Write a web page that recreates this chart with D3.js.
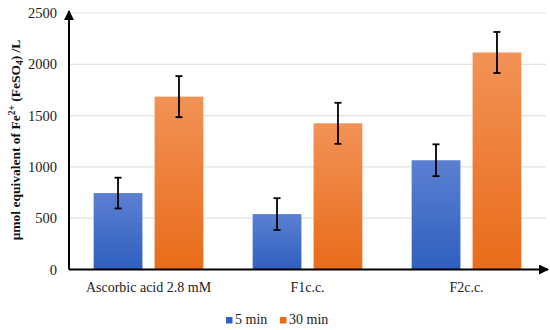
<!DOCTYPE html>
<html>
<head>
<meta charset="utf-8">
<script src="https://cdn.jsdelivr.net/npm/d3@7"></script>
<style>
  body { margin: 0; background: #fff; }
</style>
</head>
<body>
<div id="chart"></div>
<script>
const WIDTH = 550;
const HEIGHT = 330;
const MARGIN = { top: 13, right: 4, bottom: 59, left: 69 };
const FONT = "'Liberation Serif', 'Times New Roman', 'DejaVu Serif', serif";

const categories = ['Ascorbic acid 2.8 mM', 'F1c.c.', 'F2c.c.'];
const seriesNames = ['5 min', '30 min'];
const values5 = [745, 540, 1065];
const errors5 = [150, 155, 155];
const values30 = [1685, 1425, 2115];
const errors30 = [200, 200, 200];
const yTicks = [0, 500, 1000, 1500, 2000, 2500];

const colors = [['#5b80d2', '#2f5fbf'], ['#f29256', '#e96c1a']];

const svg = d3.select('#chart').append('svg')
  .attr('width', WIDTH)
  .attr('height', HEIGHT)
  .style('font-family', FONT);

const defs = svg.append('defs');
colors.forEach((c, i) => {
  const grad = defs.append('linearGradient')
    .attr('id', `grad${i}`)
    .attr('x1', 0).attr('y1', 0).attr('x2', 0).attr('y2', 1);
  grad.append('stop').attr('offset', '0%').attr('stop-color', c[0]);
  grad.append('stop').attr('offset', '100%').attr('stop-color', c[1]);
});
defs.append('marker')
  .attr('id', 'arrow')
  .attr('viewBox', '0 0 10 10')
  .attr('refX', 9).attr('refY', 5)
  .attr('markerWidth', 5).attr('markerHeight', 5)
  .attr('orient', 'auto')
  .append('path')
  .attr('d', 'M0,0L10,5L0,10Z')
  .attr('fill', '#000');

const innerW = WIDTH - MARGIN.left - MARGIN.right;
const innerH = HEIGHT - MARGIN.top - MARGIN.bottom;

const g = svg.append('g').attr('transform', `translate(${MARGIN.left},${MARGIN.top})`);

const x0 = d3.scaleBand().domain(categories).range([0, 477]).paddingInner(0.31).paddingOuter(0.155);
const x1 = d3.scaleBand().domain(seriesNames).range([0, x0.bandwidth()]).paddingInner(0.2);
const y = d3.scaleLinear().domain([0, 2500]).range([innerH - 1.5, 0]);

// gridlines
g.append('g')
  .selectAll('line')
  .data(yTicks.filter((t) => t > 0))
  .enter().append('line')
  .attr('x1', 0).attr('x2', innerW)
  .attr('y1', (d) => y(d)).attr('y2', (d) => y(d))
  .attr('stroke', '#e3e3e3')
  .attr('stroke-width', 1.2);

// tick labels
g.append('g')
  .selectAll('text')
  .data(yTicks)
  .enter().append('text')
  .attr('x', -12)
  .attr('y', (d) => y(d))
  .attr('dy', '0.35em')
  .attr('text-anchor', 'end')
  .attr('font-size', 14.5)
  .attr('fill', '#222')
  .text((d) => d);

const series = [
  { name: seriesNames[0], values: values5, errors: errors5 },
  { name: seriesNames[1], values: values30, errors: errors30 }
];

series.forEach((s, si) => {
  const sg = g.append('g');
  const data = categories.map((c, i) => ({ cat: c, v: s.values[i], e: s.errors[i] }));
  sg.selectAll('rect')
    .data(data)
    .enter().append('rect')
    .attr('x', (d) => x0(d.cat) + x1(s.name))
    .attr('width', x1.bandwidth())
    .attr('y', (d) => y(d.v))
    .attr('height', (d) => y(0) - y(d.v))
    .attr('fill', `url(#grad${si})`);

  const eb = sg.selectAll('g.err')
    .data(data)
    .enter().append('g')
    .attr('class', 'err')
    .attr('stroke', '#000')
    .attr('stroke-width', 1.8);
  const cx = (d) => x0(d.cat) + x1(s.name) + x1.bandwidth() / 2;
  eb.append('line')
    .attr('x1', cx).attr('x2', cx)
    .attr('y1', (d) => y(d.v + d.e)).attr('y2', (d) => y(d.v - d.e));
  eb.append('line')
    .attr('x1', (d) => cx(d) - 3.5).attr('x2', (d) => cx(d) + 3.5)
    .attr('y1', (d) => y(d.v + d.e)).attr('y2', (d) => y(d.v + d.e));
  eb.append('line')
    .attr('x1', (d) => cx(d) - 3.5).attr('x2', (d) => cx(d) + 3.5)
    .attr('y1', (d) => y(d.v - d.e)).attr('y2', (d) => y(d.v - d.e));
});

// axes with arrows
g.append('line')
  .attr('x1', 0).attr('x2', 0)
  .attr('y1', y(0)).attr('y2', -2)
  .attr('stroke', '#000').attr('stroke-width', 2)
  .attr('marker-end', 'url(#arrow)');
g.append('line')
  .attr('x1', 0).attr('x2', innerW + 2)
  .attr('y1', y(0)).attr('y2', y(0))
  .attr('stroke', '#000').attr('stroke-width', 2)
  .attr('marker-end', 'url(#arrow)');

// category labels
g.append('g')
  .selectAll('text')
  .data(categories)
  .enter().append('text')
  .attr('x', (d) => x0(d) + x0.bandwidth() / 2)
  .attr('y', y(0) + 22)
  .attr('text-anchor', 'middle')
  .attr('font-size', 14)
  .attr('fill', '#222')
  .text((d) => d);

// y title
const title = svg.append('text')
  .attr('transform', `translate(20,${MARGIN.top + innerH / 2 - 2}) rotate(-90)`)
  .attr('text-anchor', 'middle')
  .attr('font-size', 13.5)
  .attr('font-weight', 'bold')
  .attr('fill', '#111');
title.append('tspan').text('μmol equivalent of Fe');
title.append('tspan').attr('font-size', 9.5).attr('dy', -5).text('2+');
title.append('tspan').attr('dy', 5).text(' (FeSO');
title.append('tspan').attr('font-size', 9.5).attr('dy', 3).text('4');
title.append('tspan').attr('dy', -3).text(') /L');

// legend
const legend = svg.append('g').attr('transform', 'translate(226,324)');
const legendX = [0, 54];
seriesNames.forEach((n, i) => {
  const lg = legend.append('g').attr('transform', `translate(${legendX[i]},0)`);
  lg.append('rect').attr('x', 0).attr('y', -7).attr('width', 6.5).attr('height', 6.5)
    .attr('fill', colors[i][1]);
  lg.append('text').attr('x', 9).attr('y', 0)
    .attr('font-size', 14).attr('fill', '#222').text(n);
});
</script>
</body>
</html>
